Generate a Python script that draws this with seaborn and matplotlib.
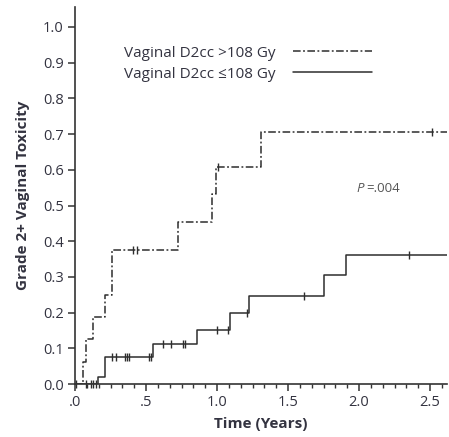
import numpy as np
import pandas as pd
import matplotlib
matplotlib.use("Agg")
import matplotlib.pyplot as plt
from matplotlib.ticker import MultipleLocator, FixedLocator
import seaborn as sns

# Cumulative incidence of grade 2+ vaginal toxicity (Kaplan-Meier steps)
groups = ["Vaginal D2cc >108 Gy", "Vaginal D2cc \u2264108 Gy"]

high_times = [0.0, 0.059, 0.075, 0.129, 0.21, 0.258, 0.727, 0.963, 0.995, 1.308]
high_levels = [0.0, 0.0625, 0.125, 0.1875, 0.25, 0.375, 0.453, 0.531, 0.609, 0.707]
high_censor = [0.41, 0.434, 1.005, 2.51]

low_times = [0.0, 0.164, 0.211, 0.552, 0.857, 1.09, 1.225, 1.754, 1.906]
low_levels = [0.0, 0.021, 0.075, 0.112, 0.151, 0.198, 0.247, 0.305, 0.361]
low_censor = [0.005, 0.08, 0.113, 0.129, 0.146, 0.263, 0.286, 0.352, 0.364,
              0.38, 0.523, 0.535, 0.617, 0.676, 0.758, 0.775, 1.0, 1.077,
              1.21, 1.613, 2.35]

x_end = 2.62
x_ticks = [0.0, 0.5, 1.0, 1.5, 2.0, 2.5]
x_tick_labels = [".0", ".5", "1.0", "1.5", "2.0", "2.5"]
y_ticks = [0.0, 0.1, 0.2, 0.3, 0.4, 0.5, 0.6, 0.7, 0.8, 0.9, 1.0]
p_text = "=.004"


def curve_frame(name, times, levels):
    t = list(times) + [x_end]
    y = list(levels) + [levels[-1]]
    return pd.DataFrame({"time": t, "inc": y, "group": name})


def censor_frame(name, times, levels, cens):
    idx = np.searchsorted(np.asarray(times), np.asarray(cens), side="right") - 1
    return pd.DataFrame({"time": cens, "inc": np.asarray(levels)[idx], "group": name})


curves = pd.concat([curve_frame(groups[0], high_times, high_levels),
                    curve_frame(groups[1], low_times, low_levels)], ignore_index=True)
marks = pd.concat([censor_frame(groups[0], high_times, high_levels, high_censor),
                   censor_frame(groups[1], low_times, low_levels, low_censor)],
                  ignore_index=True)

sns.set_theme(style="ticks")
plt.rcParams["font.family"] = ["Open Sans", "DejaVu Sans"]
ink = "#333333"
text_c = "#333340"

fig = plt.figure(figsize=(4.49, 4.37), dpi=100)
ax = fig.add_axes([0.167, 0.121, 0.829, 0.863])

line_col = "#2e2e2e"
palette = {groups[0]: line_col, groups[1]: line_col}
dashes = {groups[0]: (5, 1.6, 1.2, 1.6), groups[1]: ""}

sns.lineplot(data=curves, x="time", y="inc", hue="group", style="group",
             palette=palette, dashes=dashes, estimator=None, sort=False,
             drawstyle="steps-post", linewidth=1.1, ax=ax, legend=False)

for g in groups:
    sub = marks[marks["group"] == g]
    ax.plot(sub["time"], sub["inc"], linestyle="none", marker="|",
            markersize=6, markeredgewidth=1.0, color=line_col, clip_on=False)

ax.set_xlim(0, x_end)
ax.set_ylim(0, 1.056)

ax.xaxis.set_major_locator(FixedLocator(x_ticks))
ax.set_xticklabels(x_tick_labels)
ax.xaxis.set_minor_locator(MultipleLocator(1 / 12))
ax.yaxis.set_major_locator(FixedLocator(y_ticks))
ax.set_yticklabels([f"{v:.1f}" for v in y_ticks])

ax.tick_params(axis="both", which="major", direction="out", length=5, width=1.1,
               color=ink, labelsize=10.5, labelcolor=text_c, pad=3)
ax.tick_params(axis="x", which="minor", direction="out", length=3, width=1.0, color=ink)

for s in ["top", "right"]:
    ax.spines[s].set_visible(False)
for s in ["left", "bottom"]:
    ax.spines[s].set_linewidth(1.2)
    ax.spines[s].set_color(ink)

ax.set_xlabel("Time (Years)", fontsize=11, fontweight="bold", color=text_c, labelpad=5)
ax.set_ylabel("Grade 2+ Vaginal Toxicity", fontsize=11, fontweight="bold",
              color=text_c, labelpad=9)

handles = [plt.Line2D([], [], color=line_col, linewidth=1.1, dashes=dashes[groups[0]]),
           plt.Line2D([], [], color=line_col, linewidth=1.1)]
ax.legend(handles, groups, frameon=False, markerfirst=False, fontsize=11,
          handlelength=5.2, handletextpad=1.1, labelspacing=0.4,
          loc="upper left", bbox_to_anchor=(0.1, 0.93), labelcolor=text_c,
          borderpad=0.3)

ax.text(0.755, 0.52, "P", transform=ax.transAxes, fontsize=9.5, style="italic",
        color="#555555", ha="left", va="center")
ax.text(0.782, 0.52, p_text, transform=ax.transAxes, fontsize=9.5,
        color="#555555", ha="left", va="center")

fig.savefig("out.png", dpi=100)
